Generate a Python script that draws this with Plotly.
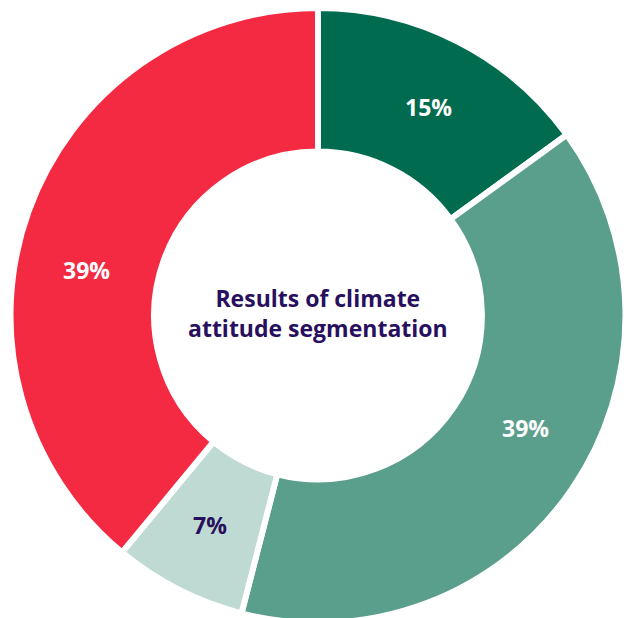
import math
import plotly.graph_objects as go

# Climate attitude segments (share of respondents, %)
segments = ["Segment A", "Segment B", "Segment C", "Segment D"]
shares = [15, 39, 7, 39]
slice_colors = ["#006B4F", "#5A9E8C", "#BFDAD3", "#F42A43"]
label_colors = ["#FFFFFF", "#FFFFFF", "#28105E", "#FFFFFF"]
center_title = "Results of climate<br>attitude segmentation"

# Angular nudges (degrees) for the percentage labels inside the ring
label_nudges = [1.0, -5.7, 0.3, -8.6]

W, H = 626, 631
CX, CY = 318, 315.5          # ring centre, px from top-left
R_OUT, HOLE = 307.5, 0.533
R_LABEL = 0.5 * (R_OUT + R_OUT * HOLE)
FONT = "Open Sans"

fig = go.Figure(
    go.Pie(
        labels=segments,
        values=shares,
        textinfo="none",
        sort=False,
        direction="clockwise",
        rotation=0,
        hole=HOLE,
        marker=dict(colors=slice_colors, line=dict(color="#FFFFFF", width=6)),
        domain=dict(x=[(CX - R_OUT) / W, (CX + R_OUT) / W], y=[0, 1]),
        showlegend=False,
        hoverinfo="skip",
    )
)

# Percentage labels placed along the middle of the ring
total = sum(shares)
start = 0.0
for v, col, nudge in zip(shares, label_colors, label_nudges):
    mid = (start + v / 2) / total * 360 + nudge
    start += v
    a = math.radians(mid)
    px = CX + R_LABEL * math.sin(a)
    py = CY - R_LABEL * math.cos(a)
    fig.add_annotation(
        text=f"{v}%",
        x=px / W,
        y=1 - py / H,
        xref="paper",
        yref="paper",
        xanchor="center",
        yanchor="middle",
        showarrow=False,
        font=dict(family=FONT, size=23, color=col, weight="bold"),
    )

fig.add_annotation(
    text=center_title,
    x=CX / W,
    y=1 - 313 / H,
    xref="paper",
    yref="paper",
    xanchor="center",
    yanchor="middle",
    showarrow=False,
    font=dict(family=FONT, size=23, color="#28105E", weight="bold"),
    align="center",
)

fig.update_layout(
    width=W,
    height=H,
    margin=dict(l=0, r=0, t=0, b=0),
    paper_bgcolor="#FFFFFF",
    plot_bgcolor="#FFFFFF",
)

fig.write_html(
    "out.html",
    post_script="document.documentElement.style.overflow='hidden';document.body.style.overflow='hidden';",
)
